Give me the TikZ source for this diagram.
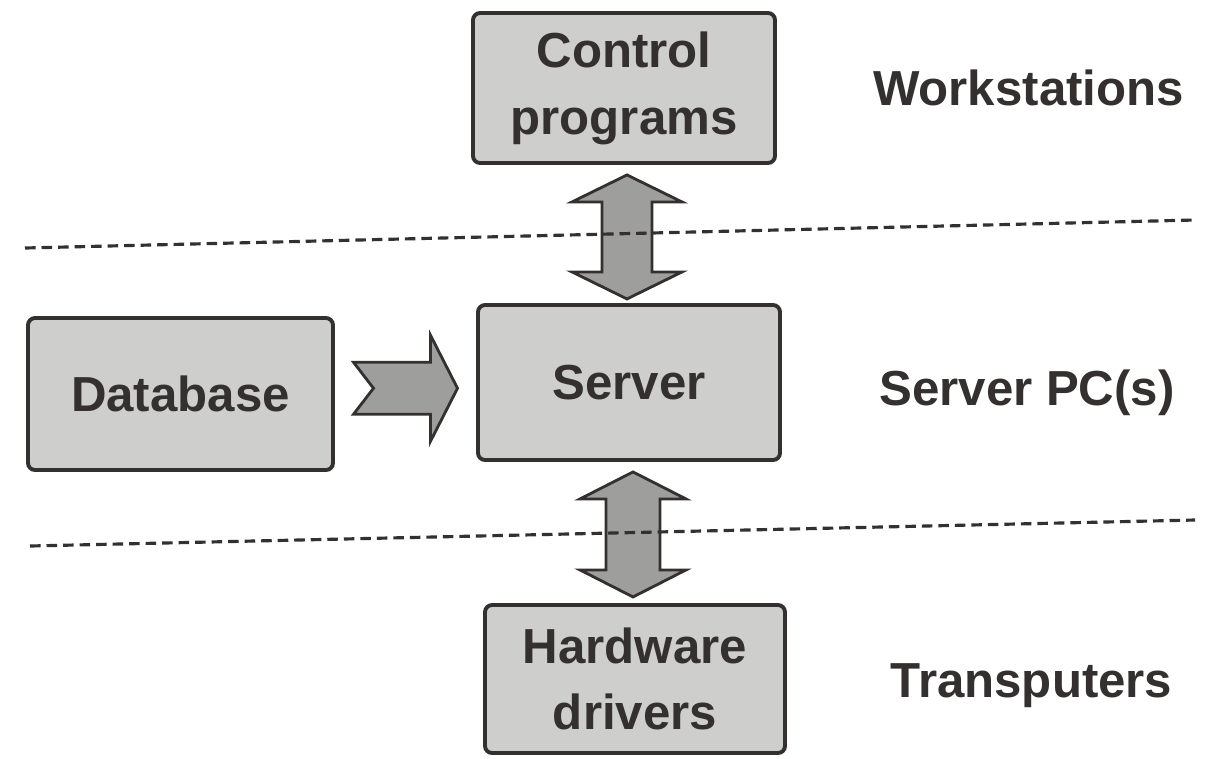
\documentclass[tikz,border=0pt]{standalone}
\usepackage{fontspec}
\setmainfont{Liberation Sans}
\usepackage{tikz}
\usetikzlibrary{calc}

\definecolor{boxgray}{RGB}{206,206,204}
\definecolor{arrowgray}{RGB}{158,158,156}
\definecolor{inkgray}{RGB}{52,48,48}

\begin{document}
\begin{tikzpicture}[every node/.style={text=inkgray,font=\fontsize{14}{19}\selectfont\bfseries},
							layerbox/.style={draw=inkgray,line width=1.1pt,rounded corners=2pt,fill=boxgray,
								align=center,minimum width=3.02cm,minimum height=1.5cm,inner sep=2pt},
							fatarrow/.style={draw=inkgray,line width=0.8pt,fill=arrowgray,line join=miter},
							layerline/.style={draw=inkgray,line width=0.9pt,dash pattern=on 3pt off 1.7pt}]
			\useasboundingbox (0,0) rectangle (12.13,7.58);
			% boxes
			\node[layerbox] (ctrl) at (6.24,6.70) {Control\\programs};
			\node[layerbox,minimum height=1.55cm] (server) at (6.29,3.755) {Server};
			\node[layerbox,minimum width=3.05cm,minimum height=1.52cm] (db) at (1.805,3.64) {\raisebox{-0.08cm}{Database}};
			\node[layerbox,minimum width=3.0cm,minimum height=1.48cm] (hw) at (6.35,0.79) {Hardware\\drivers};
			% layer names
			\node[anchor=base] (ws) at (10.285,6.53) {Workstations};
			\node[anchor=base] (pc) at (10.27,3.53) {Server PC(s)};
			\node[anchor=base] (tp) at (10.315,0.61) {Transputers};
			% arrows
			\draw[fatarrow] ($(ctrl.south)+(0.03,-0.10)$) -- ++(0.55,-0.27) -- ++(-0.30,0) -- ++(0,-0.70)
				-- ++(0.30,0) -- ++(-0.55,-0.27) -- ++(-0.55,0.27) -- ++(0.30,0) -- ++(0,0.70) -- ++(-0.30,0) -- cycle;
			\draw[fatarrow] ($(server.south)+(0.04,-0.10)$) -- ++(0.53,-0.27) -- ++(-0.26,0) -- ++(0,-0.71)
				-- ++(0.26,0) -- ++(-0.53,-0.27) -- ++(-0.53,0.27) -- ++(0.26,0) -- ++(0,0.71) -- ++(-0.26,0) -- cycle;
			\draw[fatarrow] ($(db.east)!0.5!(server.west)+(-0.52,0.26)$) -- ++(0.77,0) -- ++(0,0.27) -- ++(0.27,-0.53)
				-- ++(-0.27,-0.53) -- ++(0,0.27) -- ++(-0.77,0) -- ++(0.20,0.26) -- cycle;
			% layer borders
			\coordinate (l1a) at (0.25,5.10);
			\coordinate (l1b) at (11.95,5.38);
			\coordinate (l2a) at (0.30,2.12);
			\coordinate (l2b) at (11.95,2.38);
			\draw[layerline] (l1a) -- (l1b);
			\draw[layerline] (l2a) -- (l2b);
		\end{tikzpicture}
\end{document}
